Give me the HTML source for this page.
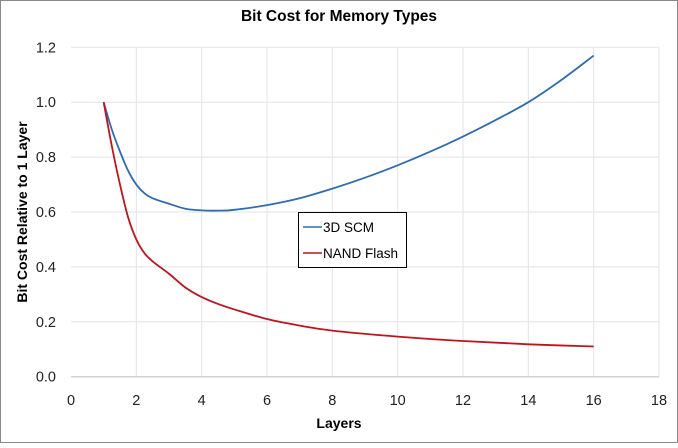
<!DOCTYPE html>
<html><head><meta charset="utf-8"><style>
body{margin:0;background:#fff;font-family:"Liberation Sans",sans-serif}
svg text{font-family:"Liberation Sans",sans-serif}
</style></head><body>
<svg id="chart" width="678" height="443" viewBox="0 0 678 443">
<rect x="0.5" y="0.5" width="677" height="442" fill="#fff" stroke="#888"/>
<text x="339" y="21" text-anchor="middle" font-size="15.5" font-weight="bold" fill="#000">Bit Cost for Memory Types</text>
<g id="grid"></g><g id="series"></g><g id="labels"></g>
<text x="339" y="428" text-anchor="middle" font-size="14" font-weight="bold">Layers</text>
<text transform="translate(27,212) rotate(-90)" text-anchor="middle" font-size="14" font-weight="bold">Bit Cost Relative to 1 Layer</text>
<g>
<rect x="298.5" y="212.5" width="108" height="55" fill="#fff" stroke="#000"/>
<line x1="303" y1="227" x2="322" y2="227" stroke="#2e6db4" stroke-width="1.6"/>
<text x="323" y="232" font-size="13.5">3D SCM</text>
<line x1="303" y1="253" x2="322" y2="253" stroke="#c0141c" stroke-width="1.6"/>
<text x="323" y="258" font-size="13.5">NAND Flash</text>
</g>
</svg>
<script>
const xTicks=[0,2,4,6,8,10,12,14,16,18];
const yTicks=[0,0.2,0.4,0.6,0.8,1.0,1.2];
const scmX=[1,1.25,1.5,1.75,2,2.25,2.5,3,3.5,4,4.5,5,6,7,8,9,10,11,12,13,14,15,16];
const scmY=[1.0,0.9,0.82,0.75,0.7,0.668,0.65,0.63,0.612,0.606,0.605,0.608,0.625,0.65,0.685,0.725,0.77,0.82,0.875,0.935,1.0,1.08,1.17];
const nandX=[1,1.25,1.5,1.75,2,2.25,2.5,3,3.5,4,4.5,5,6,7,8,10,12,14,16];
const nandY=[1.0,0.84,0.7,0.58,0.5,0.45,0.42,0.375,0.325,0.29,0.265,0.245,0.21,0.186,0.168,0.146,0.13,0.118,0.11];
const X0=71,X1=659,Y0=376.7,Y1=47.3;
const sx=v=>X0+(v-0)/(18-0)*(X1-X0);
const sy=v=>Y0-(v-0)/(1.2-0)*(Y0-Y1);
const NS="http://www.w3.org/2000/svg";
const grid=document.getElementById('grid'),labels=document.getElementById('labels'),series=document.getElementById('series');
function mk(tag,attrs,parent){const e=document.createElementNS(NS,tag);for(const k in attrs)e.setAttribute(k,attrs[k]);parent.appendChild(e);return e;}
xTicks.forEach(t=>{
  if(t>0){const l=mk('line',{x1:sx(t),x2:sx(t),y1:Y1,y2:Y0,stroke:'#e3e3e8','stroke-width':1},grid);
  
  }
  const tx=mk('text',{x:sx(t),y:405,'text-anchor':'middle','font-size':14.5,fill:'#222'},labels);
  tx.textContent=t;
  
  
});
yTicks.forEach(t=>{
  const l=mk('line',{x1:X0,x2:X1,y1:sy(t),y2:sy(t),stroke:t===0?'#d0d0d0':'#e3e3e8','stroke-width':t===0?1.5:1},grid);
  
  
  const tx=mk('text',{x:56,y:sy(t)+5,'text-anchor':'end','font-size':14.5,fill:'#222'},labels);
  tx.textContent=t.toFixed(1);
  
  
});
function path(xs,ys){
  const p=xs.map((x,i)=>[sx(x),sy(ys[i])]);
  let d='M'+p[0][0]+','+p[0][1];
  for(let i=0;i<p.length-1;i++){
    const p0=p[i-1]||p[i],p1=p[i],p2=p[i+1],p3=p[i+2]||p2;
    const c1=[p1[0]+(p2[0]-p0[0])/6,p1[1]+(p2[1]-p0[1])/6],c2=[p2[0]-(p3[0]-p1[0])/6,p2[1]-(p3[1]-p1[1])/6];
    d+=` C${c1[0]},${c1[1]} ${c2[0]},${c2[1]} ${p2[0]},${p2[1]}`;
  }
  return d;
}
const a=mk('path',{d:path(scmX,scmY),fill:'none',stroke:'#2e6db4','stroke-width':1.8},series);


const b=mk('path',{d:path(nandX,nandY),fill:'none',stroke:'#c0141c','stroke-width':1.8},series);


</script>
</body></html>
